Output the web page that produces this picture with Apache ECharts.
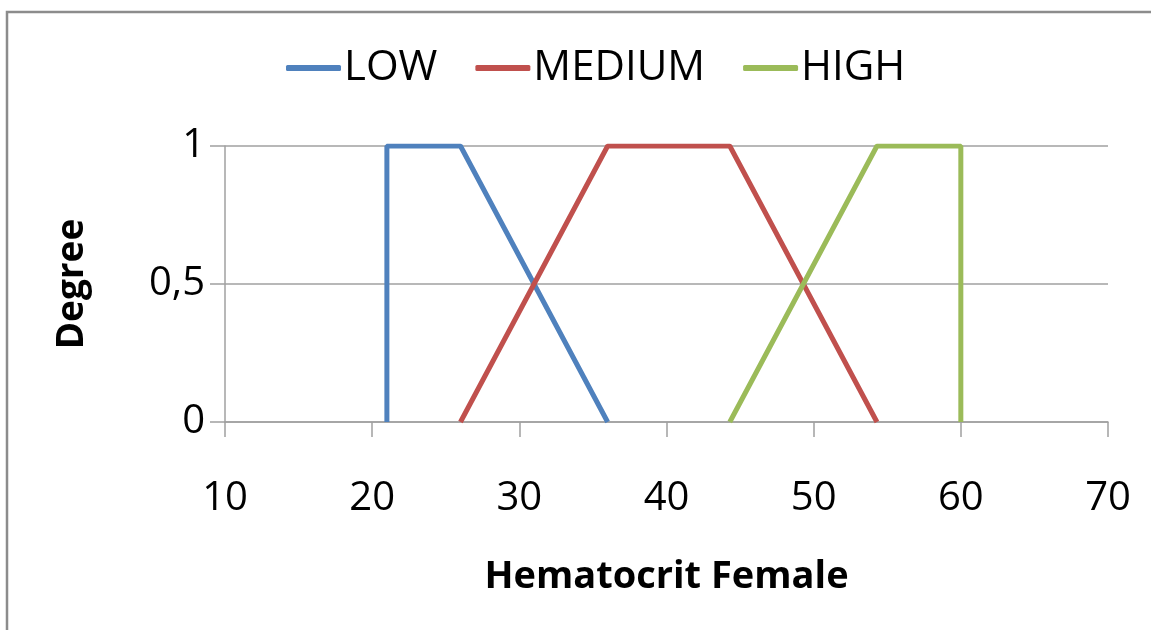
<!DOCTYPE html>
<html>
<head>
<meta charset="utf-8">
<script src="https://cdn.jsdelivr.net/npm/echarts@6/dist/echarts.min.js"></script>
<style>html,body{margin:0;padding:0;background:#fff;}#c{width:1151px;height:630px;}</style>
</head>
<body>
<div id="c"></div>
<script>
var seriesNames = ['LOW', 'MEDIUM', 'HIGH'];
var lowX = [21, 21, 26, 36];
var lowY = [0, 1, 1, 0];
var mediumX = [26, 36, 44.3, 54.3];
var mediumY = [0, 1, 1, 0];
var highX = [44.3, 54.3, 60, 60];
var highY = [0, 1, 1, 0];
var xTicks = [10, 20, 30, 40, 50, 60, 70];
var yTicks = ['0', '0,5', '1'];

var FONT = '"Open Sans", sans-serif';
function pairs(xs, ys) { return xs.map(function (x, i) { return [x, ys[i]]; }); }

var chart = echarts.init(document.getElementById('c'));
chart.setOption({
  animation: false,
  color: ['#4F81BD', '#C0504D', '#9BBB59'],
  graphic: [{
    type: 'polyline', silent: true,
    shape: { points: [[7, 640], [7, 12], [1160, 12]] },
    style: { stroke: '#8c8c8c', lineWidth: 2.5, fill: null }
  }],
  legend: {
    left: 281, top: 42,
    icon: 'roundRect',
    itemWidth: 55, itemHeight: 6, itemGap: 38,
    textStyle: { fontFamily: FONT, fontSize: 42, color: '#000', padding: [0, 0, 0, -2] },
    data: seriesNames
  },
  grid: { left: 225, right: 43, top: 146, bottom: 208, containLabel: false },
  xAxis: {
    type: 'value', min: 10, max: 70, interval: 10,
    name: 'Hematocrit Female', nameLocation: 'middle', nameGap: 136,
    nameTextStyle: { fontFamily: FONT, fontSize: 38, fontWeight: 'bold', color: '#000' },
    axisLine: { show: true, lineStyle: { color: '#A0A0A0', width: 1.5 } },
    axisTick: { show: true, length: 15, lineStyle: { color: '#A0A0A0', width: 1.5 } },
    axisLabel: { fontFamily: FONT, fontSize: 40, color: '#000', margin: 57,
      formatter: function (v) { return xTicks.indexOf(v) >= 0 ? String(v) : ''; } },
    splitLine: { show: false }
  },
  yAxis: {
    type: 'value', min: 0, max: 1, interval: 0.5,
    name: 'Degree', nameLocation: 'middle', nameGap: 134, nameRotate: 90,
    nameTextStyle: { fontFamily: FONT, fontSize: 37, fontWeight: 'bold', color: '#000' },
    axisLine: { show: true, lineStyle: { color: '#A0A0A0', width: 1.5 } },
    axisTick: { show: true, length: 15, lineStyle: { color: '#A0A0A0', width: 1.5 } },
    axisLabel: { fontFamily: FONT, fontSize: 40, color: '#000', margin: 20,
      formatter: function (v) { return yTicks[Math.round(v * 2)]; } },
    splitLine: { show: true, lineStyle: { color: '#A0A0A0', width: 1.5 } }
  },
  series: [
    { name: seriesNames[0], type: 'line', data: pairs(lowX, lowY), symbol: 'none', lineStyle: { width: 5 } },
    { name: seriesNames[1], type: 'line', data: pairs(mediumX, mediumY), symbol: 'none', lineStyle: { width: 5 } },
    { name: seriesNames[2], type: 'line', data: pairs(highX, highY), symbol: 'none', lineStyle: { width: 5 } }
  ]
});
</script>
</body>
</html>
